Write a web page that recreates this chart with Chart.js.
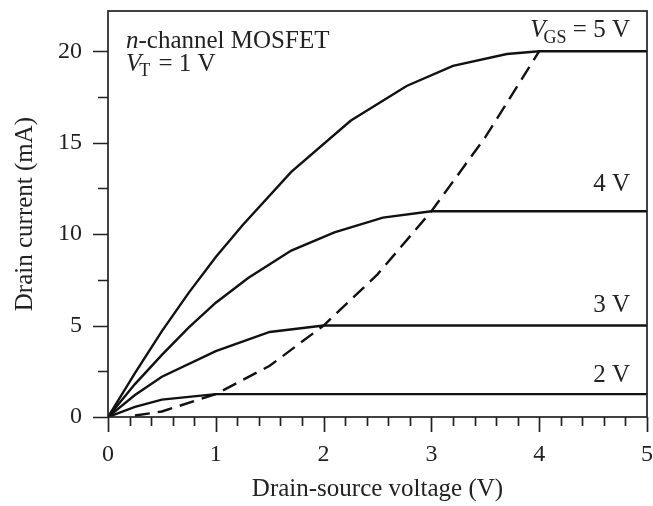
<!DOCTYPE html>
<html>
<head>
<meta charset="utf-8">
<script src="https://cdn.jsdelivr.net/npm/chart.js@4"></script>
<style>
  html, body { margin: 0; padding: 0; background: #fff; }
  #wrap { width: 653px; height: 506px; }
</style>
</head>
<body>
<div id="wrap"><canvas id="c" width="653" height="506"></canvas></div>
<script>
// ---- data ----
const vds5 = [0, 0.25, 0.5, 0.75, 1.0, 1.25, 1.7, 2.25, 2.77, 3.2, 3.7, 4.0, 5.0];
const id5  = [0, 2.4, 4.7, 6.8, 8.75, 10.5, 13.4, 16.2, 18.1, 19.2, 19.85, 20.0, 20.0];

const vds4 = [0, 0.25, 0.5, 0.75, 1.0, 1.3, 1.7, 2.1, 2.55, 3.0, 5.0];
const id4  = [0, 1.8, 3.4, 4.9, 6.25, 7.6, 9.1, 10.1, 10.9, 11.25, 11.25];

const vds3 = [0, 0.25, 0.5, 1.0, 1.5, 2.0, 5.0];
const id3  = [0, 1.2, 2.2, 3.6, 4.65, 5.0, 5.0];

const vds2 = [0, 0.25, 0.5, 1.0, 5.0];
const id2  = [0, 0.55, 0.95, 1.25, 1.25];

const vdsSat = [0.25, 0.5, 1.0, 1.5, 2.0, 2.5, 3.0, 3.5, 4.0];
const idSat  = [0.08, 0.3, 1.25, 2.8, 5.0, 7.8, 11.25, 15.3, 20.0];

const xTickLabels = [0, 1, 2, 3, 4, 5];
const yTickLabels = [0, 5, 10, 15, 20];
const curveLabels = ['5 V', '4 V', '3 V', '2 V'];

const pts = (xs, ys) => xs.map((x, i) => ({ x: x, y: ys[i] }));

const FONT = '"Liberation Serif", "Times New Roman", serif';
const INK = '#111';
const TXT = '#222';

const noPad = (s) => { s.paddingTop = 0; s.paddingBottom = 0; s.paddingLeft = 0; s.paddingRight = 0; };

const frameAndTicks = {
  id: 'frameAndTicks',
  afterDraw(chart) {
    const ctx = chart.ctx;
    const { left, right, top, bottom } = chart.chartArea;
    const xs = chart.scales.x, ys = chart.scales.y;
    ctx.save();
    ctx.strokeStyle = '#222';
    ctx.lineWidth = 1.7;
    ctx.strokeRect(left, top, right - left, bottom - top);
    ctx.beginPath();
    for (let i = 0; i <= 8; i++) {
      const v = i * 2.5;
      const py = Math.round(ys.getPixelForValue(v)) + 0.5;
      const len = (i % 2 === 0) ? 15 : 10;
      ctx.moveTo(left - len, py);
      ctx.lineTo(left, py);
    }
    for (let i = 0; i <= 25; i++) {
      const v = i * 0.2;
      const px = Math.round(xs.getPixelForValue(v)) + 0.5;
      const len = (i % 5 === 0) ? 15 : 9;
      ctx.moveTo(px, bottom);
      ctx.lineTo(px, bottom + len);
    }
    ctx.stroke();
    ctx.restore();
  }
};

const annotations = {
  id: 'annotations',
  afterDatasetsDraw(chart) {
    const ctx = chart.ctx;
    const { left, top } = chart.chartArea;
    const big = '25px ' + FONT, bigI = 'italic 25px ' + FONT, sub = '18px ' + FONT;
    ctx.save();
    ctx.fillStyle = TXT;
    ctx.textBaseline = 'alphabetic';
    ctx.textAlign = 'left';
    // n-channel MOSFET
    let x = left + 18;
    let y = top + 37;
    ctx.font = bigI;
    ctx.fillText('n', x, y);
    x += ctx.measureText('n').width;
    ctx.font = big;
    ctx.fillText('-channel MOSFET', x, y);
    // V_T = 1 V
    x = left + 18;
    y = top + 60;
    ctx.font = bigI;
    ctx.fillText('V', x, y);
    x += ctx.measureText('V').width - 2;
    ctx.font = sub;
    ctx.fillText('T', x, y + 5);
    x += ctx.measureText('T').width + 2;
    ctx.font = big;
    ctx.fillText(' = 1 V', x, y);
    // V_GS = 5 V  (right aligned)
    const rightX = 630;
    ctx.font = big;
    const tail = ' = 5 V';
    const wTail = ctx.measureText(tail).width;
    ctx.font = sub;
    const wSub = ctx.measureText('GS').width;
    ctx.font = bigI;
    const wV = ctx.measureText('V').width;
    let sx = rightX - wTail - wSub - wV + 2;
    y = 37;
    ctx.fillText('V', sx, y);
    sx += wV - 2;
    ctx.font = sub;
    ctx.fillText('GS', sx, y + 6);
    sx += wSub;
    ctx.font = big;
    ctx.fillText(tail, sx, y);
    // other curve labels
    ctx.textAlign = 'right';
    ctx.fillText(curveLabels[1], rightX, 191);
    ctx.fillText(curveLabels[2], rightX, 312);
    ctx.fillText(curveLabels[3], rightX, 382);
    ctx.restore();
  }
};

const solid = (data) => ({
  data: data,
  borderColor: INK,
  borderWidth: 2.4,
  pointRadius: 0,
  tension: 0,
  fill: false
});

new Chart(document.getElementById('c'), {
  type: 'line',
  data: {
    datasets: [
      solid(pts(vds5, id5)),
      solid(pts(vds4, id4)),
      solid(pts(vds3, id3)),
      solid(pts(vds2, id2)),
      Object.assign(solid(pts(vdsSat, idSat)), { borderDash: [15, 8] })
    ]
  },
  options: {
    responsive: false,
    animation: false,
    devicePixelRatio: 1,
    layout: { padding: { left: 0, right: 6, top: 11, bottom: 0 } },
    plugins: { legend: { display: false }, tooltip: { enabled: false } },
    scales: {
      x: {
        type: 'linear',
        min: 0, max: 5,
        grid: { display: false, drawTicks: false },
        border: { display: false },
        afterBuildTicks: (s) => { s.ticks = xTickLabels.map(v => ({ value: v })); },
        afterFit: (s) => { s.height = 89; noPad(s); },
        ticks: {
          color: TXT,
          font: { family: FONT, size: 24 },
          padding: 23,
          maxRotation: 0,
          autoSkip: false
        },
        title: {
          display: true,
          text: 'Drain-source voltage (V)',
          color: TXT,
          font: { family: FONT, size: 25 },
          padding: { top: 0, bottom: 2 }
        }
      },
      y: {
        type: 'linear',
        min: 0, max: 22.2,
        grid: { display: false, drawTicks: false },
        border: { display: false },
        afterBuildTicks: (s) => { s.ticks = yTickLabels.map(v => ({ value: v })); },
        afterFit: (s) => { s.width = 108; noPad(s); },
        ticks: {
          color: TXT,
          font: { family: FONT, size: 24 },
          padding: 26,
          autoSkip: false
        },
        title: {
          display: true,
          text: 'Drain current (mA)',
          color: TXT,
          font: { family: FONT, size: 25 },
          padding: { top: 10, bottom: 0 }
        }
      }
    }
  },
  plugins: [frameAndTicks, annotations]
});
</script>
</body>
</html>
